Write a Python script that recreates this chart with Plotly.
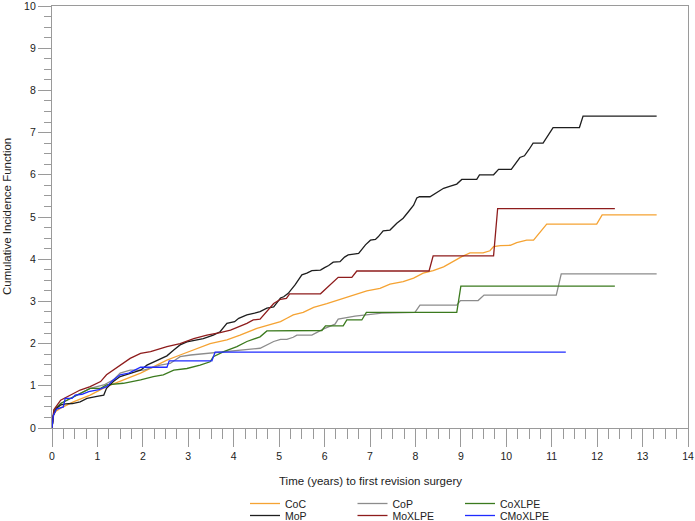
import plotly.graph_objects as go

# ---- data (time in years, cumulative incidence in %) ----
coc_x = [0, 0.03, 0.08, 0.19, 0.47, 0.84, 1.2, 1.57, 1.95, 2.23, 2.53, 2.82, 3.12, 3.48, 3.85, 4.14, 4.51, 4.88, 5.03, 5.17, 5.31, 5.53, 5.76, 6.05, 6.34, 6.64, 6.93, 7.22, 7.44, 7.73, 7.96, 8.17, 8.39, 8.62, 8.84, 9.02, 9.2, 9.49, 9.64, 9.72, 9.87, 10.09, 10.23, 10.45, 10.6, 10.71, 10.89, 11.99, 12.11, 13.31]
coc_y = [0, 0.3, 0.39, 0.47, 0.62, 0.78, 0.98, 1.14, 1.3, 1.45, 1.61, 1.73, 1.85, 2.0, 2.09, 2.2, 2.36, 2.48, 2.52, 2.6, 2.68, 2.74, 2.86, 2.95, 3.05, 3.15, 3.25, 3.31, 3.41, 3.47, 3.55, 3.67, 3.73, 3.82, 3.96, 4.06, 4.15, 4.15, 4.2, 4.3, 4.32, 4.33, 4.39, 4.45, 4.45, 4.59, 4.83, 4.83, 5.05, 5.05]

mop_x = [0, 0.03, 0.1, 0.2, 0.3, 0.45, 0.62, 0.77, 0.99, 1.14, 1.2, 1.35, 1.5, 1.74, 1.95, 2.09, 2.31, 2.53, 2.68, 2.82, 2.97, 3.18, 3.33, 3.55, 3.7, 3.85, 4.02, 4.11, 4.29, 4.46, 4.58, 4.73, 4.88, 5.03, 5.1, 5.2, 5.35, 5.5, 5.61, 5.72, 5.91, 6.0, 6.09, 6.19, 6.34, 6.44, 6.52, 6.64, 6.75, 6.9, 7.01, 7.12, 7.18, 7.29, 7.44, 7.59, 7.73, 7.85, 7.96, 8.03, 8.09, 8.32, 8.47, 8.62, 8.77, 8.91, 9.02, 9.35, 9.41, 9.72, 9.83, 10.11, 10.3, 10.4, 10.5, 10.59, 10.81, 11.03, 11.61, 11.69, 13.31]
mop_y = [0, 0.3, 0.47, 0.55, 0.57, 0.58, 0.62, 0.7, 0.75, 0.78, 0.94, 1.1, 1.22, 1.3, 1.37, 1.49, 1.61, 1.71, 1.85, 1.97, 2.04, 2.08, 2.12, 2.2, 2.28, 2.48, 2.52, 2.6, 2.68, 2.72, 2.76, 2.84, 2.87, 3.08, 3.11, 3.19, 3.39, 3.63, 3.67, 3.73, 3.74, 3.8, 3.85, 3.93, 3.94, 4.05, 4.1, 4.12, 4.14, 4.34, 4.45, 4.47, 4.53, 4.67, 4.69, 4.85, 4.97, 5.13, 5.28, 5.45, 5.48, 5.48, 5.58, 5.68, 5.73, 5.78, 5.89, 5.89, 6.0, 6.0, 6.13, 6.13, 6.41, 6.45, 6.6, 6.75, 6.75, 7.12, 7.12, 7.39, 7.39]

cop_x = [0, 0.05, 0.19, 0.47, 0.84, 1.14, 1.35, 1.5, 1.72, 2.02, 2.38, 2.6, 2.82, 3.05, 3.26, 3.85, 4.21, 4.43, 4.58, 4.88, 5.03, 5.17, 5.31, 5.39, 5.72, 5.98, 6.23, 6.3, 6.67, 7.26, 7.99, 8.1, 8.91, 8.99, 9.38, 9.51, 11.1, 11.21, 13.31]
cop_y = [0, 0.43, 0.58, 0.74, 0.94, 1.02, 1.14, 1.3, 1.37, 1.37, 1.49, 1.53, 1.69, 1.73, 1.75, 1.81, 1.85, 1.87, 1.89, 2.05, 2.1, 2.1, 2.15, 2.2, 2.2, 2.35, 2.46, 2.58, 2.65, 2.72, 2.74, 2.91, 2.91, 3.02, 3.02, 3.15, 3.15, 3.65, 3.65]

moxlpe_x = [0, 0.04, 0.19, 0.4, 0.62, 0.84, 1.07, 1.2, 1.35, 1.5, 1.72, 1.95, 2.17, 2.53, 2.82, 3.12, 3.41, 3.7, 3.93, 4.29, 4.43, 4.58, 4.8, 4.88, 5.03, 5.16, 5.23, 5.91, 6.3, 6.6, 6.71, 8.3, 8.39, 9.72, 9.81, 12.39]
moxlpe_y = [0, 0.43, 0.66, 0.78, 0.9, 0.98, 1.1, 1.26, 1.37, 1.49, 1.65, 1.77, 1.81, 1.93, 2.0, 2.12, 2.2, 2.26, 2.32, 2.48, 2.56, 2.58, 2.87, 2.95, 3.05, 3.07, 3.18, 3.18, 3.57, 3.57, 3.72, 3.72, 4.08, 4.08, 5.2, 5.2]

coxlpe_x = [0, 0.04, 0.19, 0.4, 0.62, 0.84, 1.07, 1.2, 1.57, 1.95, 2.23, 2.45, 2.68, 2.97, 3.26, 3.48, 3.55, 3.78, 4.07, 4.29, 4.58, 4.73, 5.94, 6.02, 6.41, 6.49, 6.82, 6.92, 8.91, 9.0, 12.39]
coxlpe_y = [0, 0.39, 0.58, 0.7, 0.82, 0.94, 0.94, 1.02, 1.06, 1.14, 1.22, 1.26, 1.37, 1.41, 1.49, 1.57, 1.69, 1.81, 1.93, 2.05, 2.16, 2.3, 2.31, 2.42, 2.42, 2.56, 2.56, 2.74, 2.74, 3.36, 3.36]

cmoxlpe_x = [0, 0.03, 0.1, 0.25, 0.29, 0.44, 0.51, 0.66, 0.81, 1.03, 1.2, 1.35, 1.5, 1.69, 1.95, 2.53, 2.58, 3.52, 3.59, 11.31]
cmoxlpe_y = [0, 0.3, 0.45, 0.5, 0.7, 0.7, 0.78, 0.8, 0.86, 0.91, 0.98, 1.14, 1.26, 1.3, 1.44, 1.44, 1.59, 1.59, 1.8, 1.8]

x_ticks = list(range(0, 15))
y_ticks = list(range(0, 11))

series = [
    ("CoC", coc_x, coc_y, "#F5A333", "legend"),
    ("CoP", cop_x, cop_y, "#8C8C8C", "legend"),
    ("CoXLPE", coxlpe_x, coxlpe_y, "#3B7A1E", "legend"),
    ("MoP", mop_x, mop_y, "#1E1E1E", "legend2"),
    ("MoXLPE", moxlpe_x, moxlpe_y, "#8E1C1C", "legend2"),
    ("CMoXLPE", cmoxlpe_x, cmoxlpe_y, "#1F2BFF", "legend2"),
]

FONT = "Arial, Liberation Sans, sans-serif"
TXT = "#222222"
AX = "#9A9A9A"

fig = go.Figure()
for name, xs, ys, col, lg in series:
    fig.add_trace(go.Scatter(x=xs, y=ys, mode="lines", name=name,
                             line=dict(color=col, width=1.3),
                             legend=lg))

axis_common = dict(showgrid=False, zeroline=False, showline=True, mirror=True,
                   linecolor=AX, linewidth=1.3, ticks="outside", tickcolor=AX,
                   tickwidth=1.3, tickfont=dict(family=FONT, size=10.5, color=TXT),
                   automargin=False, ticklabeloverflow="allow")

fig.update_xaxes(range=[0, 14], tickvals=x_ticks, ticktext=[str(v) for v in x_ticks],
                 ticklen=18,
                 minor=dict(dtick=0.25, ticks="outside", ticklen=10, tickcolor=AX, tickwidth=1.3, showgrid=False),
                 **axis_common)
fig.update_yaxes(range=[0, 10], tickvals=y_ticks, ticktext=[str(v) for v in y_ticks],
                 ticklen=13,
                 minor=dict(dtick=0.25, ticks="outside", ticklen=7, tickcolor=AX, tickwidth=1.3, showgrid=False),
                 **axis_common)

leg_common = dict(orientation="h", xanchor="left", yanchor="middle",
                  font=dict(family=FONT, size=10.5, color=TXT),
                  entrywidth=62.5, entrywidthmode="pixels",
                  bgcolor="rgba(0,0,0,0)", borderwidth=0, tracegroupgap=0,
                  itemwidth=30)

fig.update_layout(
    width=695, height=521,
    margin=dict(l=52, r=7, t=6, b=93, autoexpand=False),
    plot_bgcolor="white", paper_bgcolor="white",
    font=dict(family=FONT, color=TXT),
    showlegend=True,
    hovermode=False,
    legend=dict(x=(245 - 52) / 636, y=(428 - 503.5) / 422, **leg_common),
    legend2=dict(x=(245 - 52) / 636, y=(428 - 515.5) / 422, **leg_common),
    annotations=[
        dict(text="Time (years) to first revision surgery", xref="paper", yref="paper",
             x=0.5, y=(428 - 481) / 422, xanchor="center", yanchor="middle",
             showarrow=False, font=dict(family=FONT, size=11.5, color=TXT)),
        dict(text="Cumulative Incidence Function", xref="paper", yref="paper",
             x=(7 - 52) / 636, y=0.5, xanchor="center", yanchor="middle", textangle=-90,
             showarrow=False, font=dict(family=FONT, size=11.5, color=TXT)),
    ],
)

fig.write_html("out.html", config={"displayModeBar": False},
               post_script="document.body.style.margin='0px';document.body.style.overflow='hidden';")
